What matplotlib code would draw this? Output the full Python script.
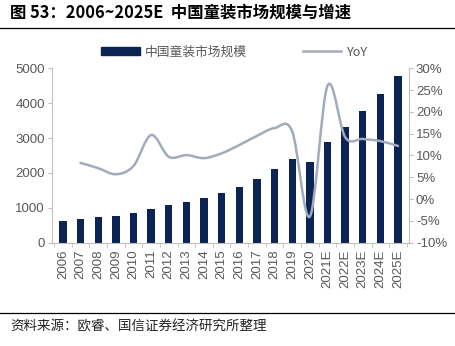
import numpy as np
import matplotlib.pyplot as plt
from matplotlib.path import Path
from matplotlib.patches import PathPatch
from matplotlib.lines import Line2D
from matplotlib.patches import Patch

plt.rcParams['font.family'] = ['Liberation Sans', 'Noto Sans CJK SC', 'DejaVu Sans']

# 数据
years = ['2006', '2007', '2008', '2009', '2010', '2011', '2012', '2013', '2014', '2015',
         '2016', '2017', '2018', '2019', '2020', '2021E', '2022E', '2023E', '2024E', '2025E']
market_size = [630, 688, 728, 765, 842, 966, 1071, 1175, 1290, 1415,
               1587, 1816, 2112, 2407, 2312, 2885, 3330, 3770, 4252, 4776]
yoy_years = years[1:]
yoy = [8.3, 7.1, 5.7, 7.6, 14.7, 9.7, 10.1, 9.4, 10.5,
       12.4, 14.5, 16.3, 15.5, -4.0, 26.0, 14.2, 13.8, 13.3, 12.2]

bar_color = '#0b2454'
line_color = '#a2abbb'
axis_color = '#bfbfbf'
text_color = '#595959'

fig = plt.figure(figsize=(4.56, 3.46), dpi=100)
ax = fig.add_axes([52 / 456, 1 - 242.7 / 346, (409 - 52) / 456, (242.7 - 68.3) / 346])
ax2 = ax.twinx()

x = np.arange(len(years))
ax.bar(x, market_size, width=0.42, color=bar_color, zorder=2)
ax.set_xlim(-0.62, len(years) - 0.38)
ax.set_ylim(0, 5000)
ax.set_yticks(range(0, 5001, 1000))
ax.set_xticks(x)
ax.set_xticklabels(years, rotation=90)
ax.set_xticks(np.arange(-0.5, len(years), 1), minor=True)

# 平滑曲线（贝塞尔）
xl = np.arange(1, len(years), dtype=float)
yl = np.array(yoy)
pts = np.column_stack([xl, yl])
verts = [pts[0]]
codes = [Path.MOVETO]
n = len(pts)
for i in range(n - 1):
    p0 = pts[i - 1] if i > 0 else pts[i]
    p1 = pts[i]
    p2 = pts[i + 1]
    p3 = pts[i + 2] if i + 2 < n else pts[i + 1]
    c1 = p1 + (p2 - p0) / 6
    c2 = p2 - (p3 - p1) / 6
    verts += [c1, c2, p2]
    codes += [Path.CURVE4] * 3
ax2.add_patch(PathPatch(Path(verts, codes), facecolor='none', edgecolor=line_color,
                        lw=1.8, zorder=3, capstyle='round'))
ax2.set_ylim(-10, 30)
ax2.set_yticks(range(-10, 31, 5))
ax2.set_yticklabels([f'{v}%' for v in range(-10, 31, 5)])

for a in (ax, ax2):
    for s in a.spines.values():
        s.set_visible(False)
ax.spines['left'].set_visible(True)
ax.spines['bottom'].set_visible(True)
ax2.spines['right'].set_visible(True)
for s in (ax.spines['left'], ax.spines['bottom'], ax2.spines['right']):
    s.set_color(axis_color)
    s.set_linewidth(0.8)

ax.tick_params(axis='y', colors=axis_color, labelcolor=text_color, labelsize=9.5, length=3, pad=2)
ax.tick_params(axis='x', which='major', length=0, labelcolor=text_color, labelsize=9.5, pad=5)
ax.tick_params(axis='x', which='minor', length=3, colors=axis_color)
ax2.tick_params(axis='y', colors=axis_color, labelcolor=text_color, labelsize=9.5, length=3, pad=2)

# 图例
handles = [Patch(color=bar_color), Line2D([], [], color=line_color, lw=1.8)]
fig.legend(handles, ['中国童装市场规模', 'YoY'], loc='center', bbox_to_anchor=(234.5 / 456, 1 - 52 / 346),
           ncol=2, frameon=False, labelcolor=text_color, columnspacing=4.4,
           handlelength=3.0, handleheight=0.55, handletextpad=0.4,
           prop={'family': ['Noto Sans CJK SC'], 'size': 9.2})

# 标题与来源
fig.text(10 / 456, 1 - 13 / 346, '图 53：2006~2025E  中国童装市场规模与增速', fontsize=11.8,
         fontweight='bold', va='center', ha='left', family=['Noto Sans CJK SC', 'DejaVu Sans'])
fig.add_artist(Line2D([0, 1], [1 - 28 / 346, 1 - 28 / 346], color='black', lw=0.9))
fig.add_artist(Line2D([0, 1], [1 - 313 / 346, 1 - 313 / 346], color='black', lw=0.9))
fig.text(10 / 456, 1 - 326 / 346, '资料来源：欧睿、国信证券经济研究所整理', fontsize=9.7,
         va='center', ha='left', color='#222222', family=['Noto Sans CJK SC'])

fig.savefig('out.png', dpi=100)
